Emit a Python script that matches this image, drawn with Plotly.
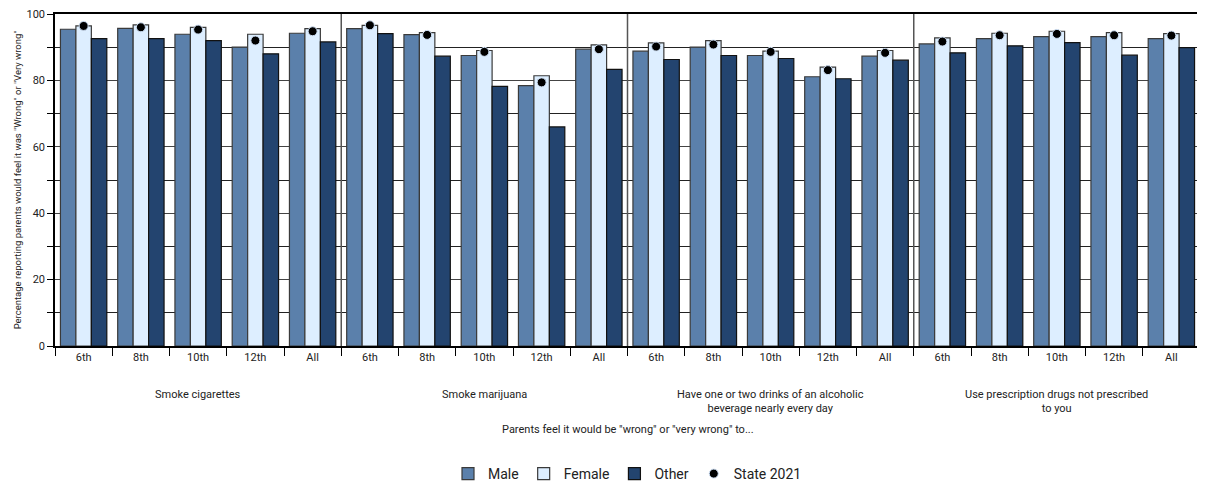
import plotly.graph_objects as go

activities = [
    "Smoke cigarettes",
    "Smoke marijuana",
    "Have one or two drinks of an alcoholic<br>beverage nearly every day",
    "Use prescription drugs not prescribed<br>to you",
]
grades = ["6th", "8th", "10th", "12th", "All"]

male = [95.4, 95.7, 93.9, 90.0, 94.2,
        95.6, 93.8, 87.5, 78.4, 89.4,
        88.8, 90.0, 87.5, 81.1, 87.3,
        91.0, 92.6, 93.2, 93.2, 92.6]
female = [96.4, 96.7, 96.0, 93.9, 95.6,
          96.6, 94.4, 89.0, 81.4, 90.7,
          91.3, 92.0, 88.8, 84.0, 89.0,
          92.8, 94.2, 94.8, 94.4, 94.1]
other = [92.6, 92.6, 92.0, 88.0, 91.6,
         94.1, 87.3, 78.2, 66.0, 83.3,
         86.3, 87.5, 86.6, 80.5, 86.1,
         88.3, 90.4, 91.4, 87.6, 89.9]
state_2021 = [96.4, 96.0, 95.3, 92.0, 94.8,
              96.6, 93.7, 88.6, 79.4, 89.4,
              90.2, 90.8, 88.6, 83.1, 88.3,
              91.7, 93.6, 94.0, 93.6, 93.5]

cats = [f"{a[:12]}|{g}" for a in activities for g in grades]
ticktext = [g for _ in activities for g in grades]

font = "Liberation Sans Narrow, Arial Narrow, Roboto, sans-serif"

fig = go.Figure()
series = [
    ("Male", male, "#5b80ab", "#3a3a3a"),
    ("Female", female, "#ddeeff", "#3a3a3a"),
    ("Other", other, "#23446f", "#111111"),
]
for name, vals, color, edge in series:
    fig.add_bar(x=cats, y=vals, name=name,
                marker=dict(color=color, line=dict(color=edge, width=1.2)))

fig.add_scatter(x=cats, y=state_2021, mode="markers", name="State 2021",
                marker=dict(color="black", size=9, line=dict(color="#cfe0f5", width=1)))

# separators between activity groups
for i in range(1, len(activities)):
    fig.add_shape(type="line", xref="x", yref="paper", x0=i * 5 - 0.5, x1=i * 5 - 0.5,
                  y0=0, y1=1, line=dict(color="#555555", width=1.5))

# activity labels under the grade ticks
for i, a in enumerate(activities):
    fig.add_annotation(x=i * 5 + 2, y=-0.12, xref="x", yref="paper", text=a,
                       showarrow=False, yanchor="top", align="center",
                       font=dict(size=11, color="#222222"))

fig.add_annotation(x=0.5, y=-0.226, xref="paper", yref="paper",
                   text='Parents feel it would be "wrong" or "very wrong" to...',
                   showarrow=False, yanchor="top", font=dict(size=11, color="#222222"))

# the page body keeps its default 8px margin, so the figure is sized and
# offset to land on the 1205x484 window
fig.update_layout(
    width=1197, height=476,
    margin=dict(l=47, r=5, t=6, b=138, autoexpand=False),
    plot_bgcolor="white", paper_bgcolor="white",
    barmode="group", bargap=0.19, bargroupgap=0,
    font=dict(family=font, size=11, color="#222222"),
    legend=dict(orientation="h", x=0.5, xanchor="center", yref="container", y=0.021,
                yanchor="middle", font=dict(size=14), itemwidth=30, traceorder="normal"),
    xaxis=dict(type="category", tickvals=cats, ticktext=ticktext, tickson="boundaries",
               range=[-0.5, len(cats) - 0.5], automargin=False,
               ticks="outside", ticklen=8, tickcolor="black", showline=True,
               linecolor="black", linewidth=1.5, mirror=True, showgrid=False,
               tickfont=dict(size=11)),
    yaxis=dict(range=[0, 100], dtick=20, ticks="outside", ticklen=6, tickcolor="black",
               automargin=False, ticklabeloverflow="allow",
               showline=True, linecolor="black", linewidth=1.5, mirror=True,
               showgrid=True, gridcolor="#444444", gridwidth=1, zeroline=False,
               minor=dict(dtick=10, ticks="outside", ticklen=6, tickcolor="black",
                          showgrid=True, gridcolor="#222222", gridwidth=1),
               title=dict(text='Percentage reporting parents would feel it was "Wrong" or "Very wrong"',
                          font=dict(size=9.5), standoff=3),
               tickfont=dict(size=11)),
)

fig.write_html("out.html")
